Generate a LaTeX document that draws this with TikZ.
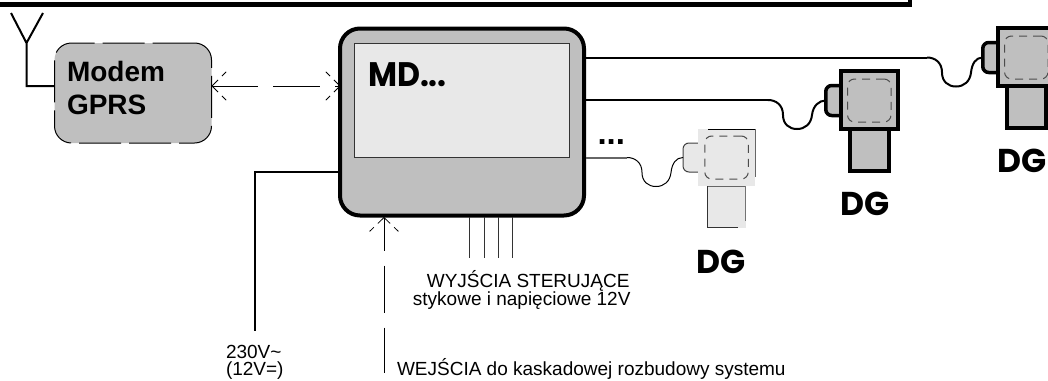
\documentclass[tikz,border=0pt]{standalone}
\usepackage{fontspec}
\setmainfont{Liberation Sans}
\newfontfamily\dgfont{Poppins}
\newfontfamily\mdfont[FakeStretch=0.93]{Poppins}
\usetikzlibrary{calc}
\definecolor{boxgray}{HTML}{BFBFBF}
\definecolor{lightgray2}{HTML}{E8E8E8}
\newcommand{\pxfont}[1]{\fontsize{#1}{#1}\selectfont}
\newcommand{\wavy}[2]{(#1) .. controls +(8,0) and +(0,-10) .. ($(#1)+(15,15)$) .. controls +(0,9) and +(-8,0) .. ($(#1)+(29,29)$) .. controls +(8,0) and +(-1,9) .. ($(#1)+(44,15)$) .. controls +(1,-9) and +(-7,0) .. (#2)}
\tikzset{
  plain/.style={inner sep=0pt,outer sep=0pt},
  wirethick/.style={line width=2pt},
  wirethin/.style={line width=1pt},
  barb/.style={line width=0.8pt,dash pattern=on 8.5pt off 5.5pt on 6pt},
  label/.style={plain,anchor=base west,font=\pxfont{19}},
  dgtext/.style={plain,anchor=base west,font={\dgfont\bfseries\pxfont{33}}},
  dashbox/.style={plain,draw=black!70,line width=1pt,rounded corners=7pt,dash pattern=on 8pt off 6pt,minimum width=43.5pt,minimum height=43pt},
  pics/dgdark/.style={code={
    \node[plain,draw,line width=3.5pt,fill=boxgray,rounded corners=6pt,minimum width=25pt,minimum height=30pt] (-bump) at (-31,0.5) {};
    \node[plain,draw,line width=4pt,fill=boxgray,minimum width=39pt,minimum height=42pt] (-leg) at (0,50) {};
    \node[plain,draw,line width=4pt,fill=boxgray,minimum width=57.5pt,minimum height=58pt] (-box) at (0,0) {};
    \node[dashbox] (-dash) at (0,0.5) {};
  }},
  pics/dglight/.style={code={
    \node[plain,draw=black!75,line width=1pt,fill=lightgray2,rounded corners=6pt,minimum width=25pt,minimum height=29pt] (-bump) at (-31,0) {};
    \node[plain,fill=lightgray2,minimum width=38pt,minimum height=41.5pt] (-leg) at (0,49.25) {};
    \node[plain,fill=lightgray2,minimum width=57pt,minimum height=57pt] (-box) at (0,0) {};
    \node[dashbox] (-dash) at (0,0) {};
    \draw[line width=1pt] ($(-box.north west)+(10,0)$) -- (-box.north east);
    \draw[line width=1pt,black!60] (-box.north east) -- ($(-box.south east)+(0,-9)$);
    \draw[line width=1pt,black!60] (-leg.north west) -- (-leg.north east);
    \draw[line width=1pt,black!80] (-leg.north west) -- (-leg.south west) -- ($(-leg.south east)+(-8,0)$);
    \draw[line width=1pt,black!55] (-leg.north east) -- ($(-leg.south east)+(0,-7)$);
  }}
}
\begin{document}
\begin{tikzpicture}[x=1pt,y=-1pt]
\useasboundingbox (0,0) rectangle (1048,380);
\clip (0,0) rectangle (1048,380);
% top frame
\fill (0,2) rectangle (912,7);
\fill (908,0) rectangle (912,7);
% antenna
\coordinate (antL) at (11,13);
\coordinate (antR) at (43,13);
\coordinate (antT) at (26.5,43);
\coordinate (antB) at (26.5,86);
% modem
\node[plain,draw,line width=1pt,fill=boxgray,rounded corners=17pt,dash pattern=on 42pt off 8pt,minimum width=157pt,minimum height=100pt] (modem) at (133,93) {};
\node[plain,anchor=base west,font={\bfseries\pxfont{28}}] (modemA) at (67,81) {Modem};
\node[plain,anchor=base west,font={\bfseries\pxfont{28}}] (modemB) at (67,114) {GPRS};
\draw[wirethick] (antL) -- (antT) -- (antR) (antT) -- (antB) -- (antB -| modem.west);
% MD
\node[plain,draw,line width=4pt,fill=boxgray,rounded corners=20pt,minimum width=244pt,minimum height=187pt] (md) at (462,122) {};
\node[plain,draw=black!80,line width=1pt,fill=lightgray2,minimum width=214.5pt,minimum height=114pt] (screen) at (461.75,100) {};
\node[plain,anchor=base west,font={\mdfont\bfseries\pxfont{34}}] (mdlabel) at (368,86) {MD...};
% modem link
\coordinate (mdW) at (340,86);
\coordinate (modE) at (212,86);
\draw[line width=1pt,dash pattern=on 46pt off 15pt on 47pt off 15pt on 5pt] (modE) -- (mdW);
\coordinate (modB1) at (227,71);
\coordinate (modB2) at (227,101);
\coordinate (mdB1) at (325,71);
\coordinate (mdB2) at (325,101);
\draw[barb] (modE) -- (modB1);
\draw[barb] (modE) -- (modB2);
\draw[barb] (mdW) -- (mdB1);
\draw[barb] (mdW) -- (mdB2);
% power
\coordinate (pwrA) at (340,172);
\coordinate (pwrB) at (255,172);
\coordinate (pwrC) at (255,331);
\draw[wirethick] (pwrA) -- (pwrB) -- (pwrC);
\node[label] (pwr1) at (226,358) {230V\textasciitilde};
\node[label] (pwr2) at (226,375.5) {(12V=)};
% input arrow
\coordinate (inT) at (384,217.5);
\coordinate (inB) at (384,373);
\coordinate (inL) at (369,232);
\coordinate (inR) at (399,232);
\draw[line width=1pt,dash pattern=on 33pt off 15pt on 47pt off 15pt on 46pt] (inT) -- (inB);
\draw[barb] (inT) -- (inL);
\draw[barb] (inT) -- (inR);
\node[label] (inText) at (397,375.5) {WEJŚCIA do kaskadowej rozbudowy systemu};
% outputs
\foreach \n/\x in {a/469.5,b/484,c/498,d/512}{
  \coordinate (o\n T) at (\x,217);
  \coordinate (o\n B) at (\x,258);
  \draw[line width=0.9pt,black!80] (o\n T) -- (o\n B);
}
\node[plain,anchor=base east,font=\pxfont{19}] (outA) at (629.5,287) {WYJŚCIA STERUJĄCE};
\node[plain,anchor=base east,font=\pxfont{19}] (outB) at (630.5,305) {stykowe i napięciowe 12V};
% DG units
\path (726.5,157.5) pic (dga) {dglight};
\path (869.25,100) pic (dgb) {dgdark};
\path (1026.25,57) pic (dgc) {dgdark};
\node[dgtext] (dgAt) at (696.5,273) {DG};
\node[dgtext] (dgBt) at (840,215) {DG};
\node[dgtext] (dgCt) at (997,172) {DG};
% wires to DG
\coordinate (w1s) at (586,57.5);
\coordinate (w1w) at (927,57.5);
\coordinate (w2s) at (586,100);
\coordinate (w2w) at (768,100);
\coordinate (w3s) at (586,157.5);
\coordinate (w3w) at (627,157.5);
\draw[wirethick] (w1s) -- (w1w);
\draw[wirethick] \wavy{w1w}{dgc-bump.west};
\draw[wirethick] (w2s) -- (w2w);
\draw[wirethick] \wavy{w2w}{dgb-bump.west};
\draw[wirethick,black!60] (w3s) -- (w3w);
\draw[wirethin] \wavy{w3w}{dga-bump.west};
\node[plain,anchor=base west,font={\bfseries\pxfont{33}}] (dots) at (597.5,144) {...};
\end{tikzpicture}
\end{document}
